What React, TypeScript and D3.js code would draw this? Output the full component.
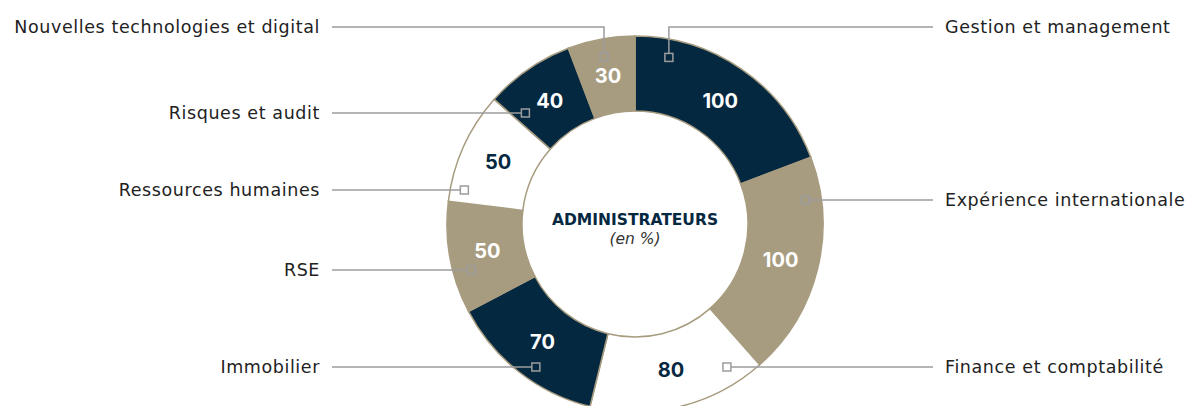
import { useEffect, useRef } from "react";
import * as d3 from "d3";

// categories clockwise from 12 o'clock
const categories = [
  "Gestion et management",
  "Expérience internationale",
  "Finance et comptabilité",
  "Immobilier",
  "RSE",
  "Ressources humaines",
  "Risques et audit",
  "Nouvelles technologies et digital",
];
const values = [100, 100, 80, 70, 50, 50, 40, 30];
const sliceColors = ["navy", "beige", "white", "navy", "beige", "white", "navy", "beige"];

// leader layout
const labelY = [27, 200, 367, 367, 270, 190, 113, 27];
const markerR = [170, 172, 170, 174, 170, 174, 156, 170];
const markerAngle = [11.5, null, null, null, null, null, null, -10.5];

const NAVY = "#052841";
const BEIGE = "#a89c80";
const GRAY = "#9c9c9c";
const FONT = "'DejaVu Sans', sans-serif";
const VALUE_FONT = "Inter, 'DejaVu Sans', sans-serif";

export default function App() {
  const svgRef = useRef<SVGSVGElement>(null);

  useEffect(() => {
    const width = 1190, height = 406;
    const cx = 635, cy = 224;
    const outerR = 188, innerR = 113;

    d3.select(svgRef.current).selectAll("*").remove();
    const svg = d3.select(svgRef.current)
      .attr("width", width)
      .attr("height", height);

    const data = categories.map((c, i) => ({ category: c, value: values[i], i }));
    const pie = d3.pie<any>().sort(null).value(d => d.value);
    const arcs = pie(data);
    const arc = d3.arc<any>().innerRadius(innerR).outerRadius(outerR);

    const colorOf = (k: string) => (k === "navy" ? NAVY : k === "beige" ? BEIGE : "#ffffff");

    const g = svg.append("g").attr("transform", `translate(${cx},${cy})`);

    g.selectAll(".slice")
      .data(arcs)
      .join("path")
        .attr("d", arc)
        .attr("fill", d => colorOf(sliceColors[d.data.i]))
        .attr("stroke", BEIGE)
        .attr("stroke-width", 1.5);

    // values
    const labelArc = d3.arc<any>().innerRadius(150).outerRadius(150);
    g.selectAll(".val")
      .data(arcs)
      .join("text")
        .attr("x", d => labelArc.centroid(d)[0])
        .attr("y", d => labelArc.centroid(d)[1])
        .attr("text-anchor", "middle")
        .attr("dominant-baseline", "central")
        .style("font-family", VALUE_FONT)
        .style("font-weight", "700")
        .style("font-size", "20px")
        .attr("fill", d => (sliceColors[d.data.i] === "white" ? NAVY : "#ffffff"))
        .text(d => d.data.value);

    // leaders
    const leaders = svg.append("g");
    arcs.forEach(d => {
      const i = d.data.i;
      const mid = (d.startAngle + d.endAngle) / 2;
      const right = mid < Math.PI;
      const side = right ? 1 : -1;
      const ly = labelY[i];
      let mx: number, my: number;
      const pts: [number, number][] = [];
      const lineEnd = right ? 933 : 332;
      if (markerAngle[i] != null) {
        const a = (markerAngle[i] as number) * Math.PI / 180;
        mx = cx + markerR[i] * Math.sin(a);
        my = cy - markerR[i] * Math.cos(a);
        pts.push([mx, my - 4], [mx, ly], [lineEnd, ly]);
      } else {
        const dy = ly - cy;
        mx = cx + side * Math.sqrt(markerR[i] * markerR[i] - dy * dy);
        my = ly;
        pts.push([mx + side * 4, ly], [lineEnd, ly]);
      }
      leaders.append("path")
        .attr("d", d3.line()(pts))
        .attr("fill", "none")
        .attr("stroke", GRAY)
        .attr("stroke-width", 1.5);
      leaders.append("rect")
        .attr("x", mx - 4)
        .attr("y", my - 4)
        .attr("width", 8)
        .attr("height", 8)
        .attr("fill", "none")
        .attr("stroke", GRAY)
        .attr("stroke-width", 1.5);
      leaders.append("text")
        .attr("x", right ? 945 : 320)
        .attr("y", ly + 6)
        .attr("text-anchor", right ? "start" : "end")
        .style("font-family", FONT)
        .style("font-size", "17.5px")
        .style("letter-spacing", "0.6px")
        .attr("fill", "#222222")
        .text(d.data.category);
    });

    // center title
    svg.append("text")
      .attr("x", cx)
      .attr("y", cy + 1)
      .attr("text-anchor", "middle")
      .style("font-family", FONT)
      .style("font-weight", "bold")
      .style("font-size", "15.5px")
      .attr("fill", NAVY)
      .text("ADMINISTRATEURS");
    svg.append("text")
      .attr("x", cx)
      .attr("y", cy + 20)
      .attr("text-anchor", "middle")
      .style("font-family", FONT)
      .style("font-style", "italic")
      .style("font-size", "15.5px")
      .attr("fill", "#333333")
      .text("(en %)");
  }, []);

  return (
    <svg ref={svgRef} style={{ position: "absolute", left: 0, top: 0 }}></svg>
  );
}
